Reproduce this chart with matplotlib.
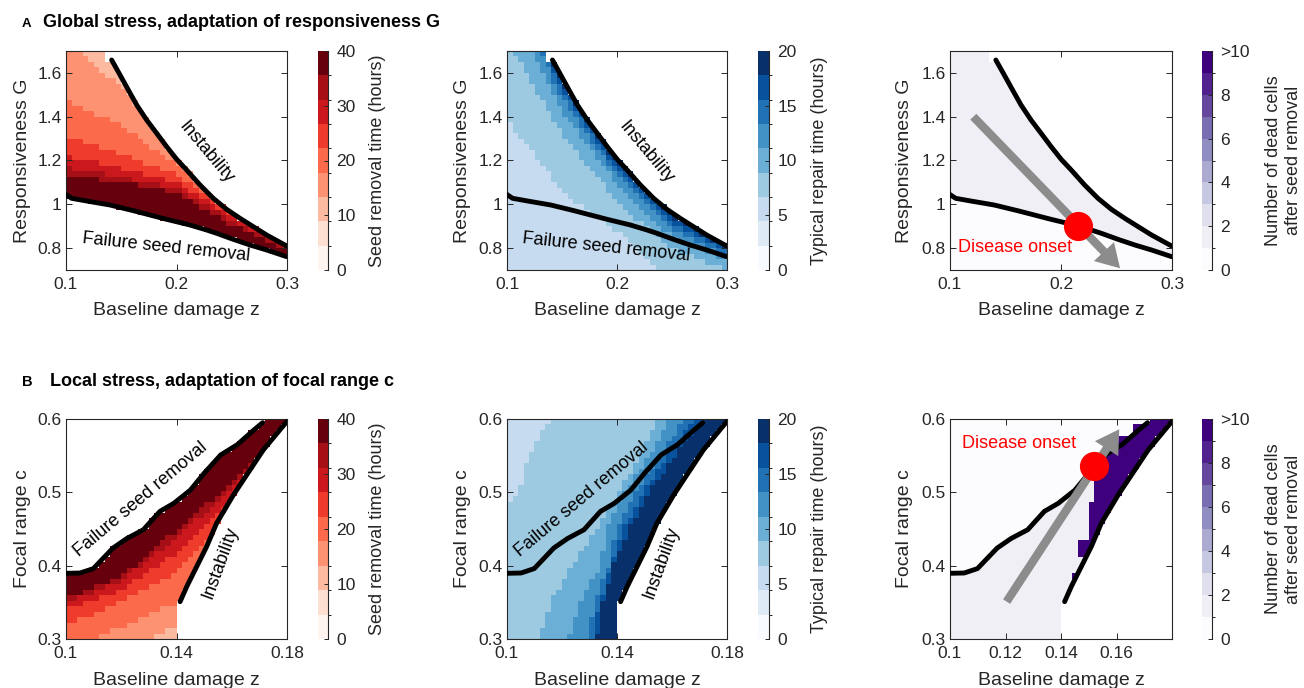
import numpy as np
import matplotlib
matplotlib.use('Agg')
import matplotlib.pyplot as plt
from matplotlib.colors import ListedColormap, BoundaryNorm
from matplotlib.cm import ScalarMappable
from matplotlib.patches import FancyArrow
from matplotlib.lines import Line2D

plt.rcParams['font.family'] = ['Liberation Sans', 'DejaVu Sans']

# ======================= data =======================
# ---- Row A: global stress (baseline damage z vs responsiveness G) ----
A_fail_z = [0.0997, 0.1051, 0.1187, 0.1398, 0.1609, 0.1760, 0.1911, 0.2122,
            0.2273, 0.2364, 0.2514, 0.2665, 0.2816, 0.2997]
A_fail_G = [1.0455, 1.0273, 1.0151, 0.9968, 0.9709, 0.9511, 0.9313, 0.9055,
            0.8826, 0.8674, 0.8400, 0.8142, 0.7913, 0.7609]
A_inst_z = [0.1413, 0.1489, 0.1564, 0.1640, 0.1730, 0.1821, 0.1911, 0.2002,
            0.2092, 0.2213, 0.2333, 0.2454, 0.2575, 0.2695, 0.2816, 0.2997]
A_inst_G = [1.6589, 1.5904, 1.5219, 1.4534, 1.3849, 1.3240, 1.2632, 1.2053,
            1.1566, 1.0881, 1.0273, 0.9770, 0.9359, 0.8979, 0.8598, 0.8096]
A_top_edge_z = 0.137          # data reach the top of the panel left of this z

A_band_z = [0.10, 0.15, 0.20, 0.25, 0.30]
# seed removal time: level boundaries (G) from light (upper) to dark (near failure)
A1_b43 = [1.750, 1.530, 1.250, 1.050, 0.900]
A1_b54 = [1.475, 1.360, 1.179, 1.000, 0.870]
A1_b65 = [1.315, 1.230, 1.134, 0.975, 0.850]
A1_b76 = [1.215, 1.165, 1.096, 0.951, 0.830]
A1_b87 = [1.165, 1.125, 1.073, 0.928, 0.810]
A1_b98 = [1.135, 1.100, 1.050, 0.905, 0.790]
# typical repair time: level boundaries (G), darker towards instability
A2_b34 = [1.385, 1.058, 0.875, 0.650, 0.600]
A2_b45 = [1.750, 1.316, 1.012, 0.799, 0.700]
A2_b56 = [1.950, 1.423, 1.088, 0.852, 0.738]
A2_b67 = [2.000, 1.484, 1.126, 0.890, 0.769]
A2_b78 = [2.050, 1.522, 1.157, 0.913, 0.784]
A2_b89 = [2.100, 1.552, 1.179, 0.936, 0.799]
# dead cells: value below failure curve and in the adaptive region
A3_below_value = 0.5
A3_region_value = 1.5
A3_onset = [0.2156, 0.902]
A3_arrow = [[0.121, 1.40], [0.2532, 0.708]]
A3_onset_text = [0.1586, 0.805]

# ---- Row B: local stress (baseline damage z vs focal range c) ----
B_fail_z = [0.100, 0.1051, 0.1099, 0.117, 0.122, 0.128, 0.134, 0.139, 0.145,
            0.150, 0.156, 0.162, 0.168, 0.1712]
B_fail_c = [0.3896, 0.390, 0.396, 0.424, 0.437, 0.449, 0.474, 0.485, 0.503,
            0.526, 0.551, 0.565, 0.585, 0.595]
B_inst_z = [0.1413, 0.1437, 0.1461, 0.1485, 0.1509, 0.1545, 0.1606, 0.1666,
            0.1714, 0.1799]
B_inst_c = [0.3509, 0.3714, 0.3896, 0.4077, 0.4259, 0.4577, 0.4964, 0.5305,
            0.5577, 0.5964]
B_low_edge_z = 0.14           # data stop at this z below the instability curve

B_band_z = [0.10, 0.12, 0.14, 0.16, 0.18]
B1_b34 = [0.250, 0.280, 0.320, 0.400, 0.500]
B1_b45 = [0.280, 0.317, 0.350, 0.440, 0.530]
B1_b56 = [0.317, 0.354, 0.390, 0.470, 0.550]
B1_b67 = [0.340, 0.367, 0.417, 0.490, 0.565]
B1_b78 = [0.351, 0.379, 0.438, 0.505, 0.575]
B1_b89 = [0.356, 0.385, 0.449, 0.513, 0.580]

B_band_c = [0.30, 0.35, 0.40, 0.45, 0.50, 0.55, 0.60]
B2_b34 = [0.090, 0.090, 0.090, 0.094, 0.104, 0.108, 0.1156]
B2_b45 = [0.112, 0.116, 0.1235, 0.1324, 0.1407, 0.1486, 0.1550]
B2_b56 = [0.1223, 0.1265, 0.1340, 0.1362, 0.1430, 0.1518, 0.1595]
B2_b67 = [0.1290, 0.1320, 0.1370, 0.1400, 0.1470, 0.1560, 0.1645]
B2_b78 = [0.1308, 0.1340, 0.1380, 0.1422, 0.1497, 0.1587, 0.1680]
B2_b89 = [0.1326, 0.1350, 0.1387, 0.1443, 0.1518, 0.1610, 0.1720]

B3_above_value = 0.5
B3_region_value = 1.5
B3_dark_value = 9.5
B3_dark_c_lo = [0.385, 0.4145, 0.4373, 0.4855, 0.5168, 0.555, 0.578, 0.5918]
B3_dark_c_hi = [0.392, 0.4373, 0.4855, 0.5168, 0.555, 0.578, 0.5918, 0.600]
B3_dark_z_left = [0.1432, 0.1468, 0.1492, 0.1510, 0.1530, 0.1580, 0.1660, 0.1710]
B3_onset = [0.1519, 0.536]
B3_arrow = [[0.1204, 0.351], [0.161, 0.586]]
B3_onset_text = [0.1249, 0.566]

# ticks / labels
A_xticks = [0.1, 0.2, 0.3]
A_yticks = [0.8, 1.0, 1.2, 1.4, 1.6]
A_yticklabels = ['0.8', '1', '1.2', '1.4', '1.6']
B_xticks = [0.1, 0.14, 0.18]
B3_xticks = [0.1, 0.12, 0.14, 0.16]
B_yticks = [0.3, 0.4, 0.5, 0.6]

reds9 = ['#fff5f0', '#fee0d2', '#fcbba1', '#fc9272', '#fb6a4a', '#ef3b2c',
         '#cb181d', '#a50f15', '#67000d']
blues9 = ['#f7fbff', '#deebf7', '#c6dbef', '#9ecae1', '#6baed6', '#4292c6',
          '#2171b5', '#08519c', '#08306b']
purples10 = plt.cm.Purples(np.linspace(0, 1, 10))

# ======================= figure layout (pixels) =======================
W, H = 1304, 688
fig = plt.figure(figsize=(W / 100, H / 100), dpi=100)
INK = '#262626'


def rect(l, r, t, b):
    return [l / W, 1 - b / H, (r - l) / W, (b - t) / H]


def style(ax, xlim, ylim, xt, xtl, yt, ytl, xlabel, ylabel, ylab_x):
    ax.set_xlim(xlim)
    ax.set_ylim(ylim)
    ax.set_xticks(xt)
    ax.set_xticklabels(xtl)
    ax.set_yticks(yt)
    ax.set_yticklabels(ytl)
    ax.tick_params(direction='in', top=True, right=True, length=4, width=0.7,
                   color=INK, labelcolor=INK, labelsize=12.5)
    ax.tick_params(axis='x', pad=5)
    ax.tick_params(axis='y', pad=3)
    for s in ax.spines.values():
        s.set_linewidth(0.8)
        s.set_color(INK)
    ax.set_xlabel(xlabel, fontsize=14, color=INK, va='center')
    ax.xaxis.set_label_coords(0.5, -0.187)
    ax.set_ylabel(ylabel, fontsize=14, color=INK, va='center')
    ax.yaxis.set_label_coords(ylab_x, 0.5)


def cbar(l, r, t, b, colors, vmax, ticks, ticklabels, label, label_x):
    cax = fig.add_axes(rect(l, r, t, b))
    cmap = ListedColormap(colors)
    norm = BoundaryNorm(np.linspace(0, vmax, len(colors) + 1), cmap.N)
    cb = fig.colorbar(ScalarMappable(norm=norm, cmap=cmap), cax=cax, ticks=ticks)
    cb.set_ticklabels(ticklabels)
    cb.outline.set_visible(False)
    cax.add_artist(Line2D([1, 1], [0, 1], transform=cax.transAxes, color=INK,
                          lw=0.8, clip_on=False))
    cax.tick_params(direction='in', length=3, width=0.7, color=INK,
                    labelcolor=INK, labelsize=12.5, pad=6)
    fig.text(label_x / W, 1 - (t + b) / 2 / H, label, rotation=90, ha='center',
             va='center', fontsize=13, color=INK, multialignment='center')
    return cmap, norm


def count_above(coord, pos, band_pos, bands):
    n = np.zeros(coord.shape)
    for bnd in bands:
        n += coord > np.interp(pos, band_pos, bnd)
    return n


def curve(ax, x, y):
    ax.plot(x, y, color='black', lw=3.5, solid_capstyle='round',
            solid_joinstyle='round', zorder=3)


def label(ax, x, y, s, rot):
    ax.text(x, y, s, rotation=rot, rotation_mode='anchor', ha='center',
            va='center', fontsize=13, color='black', zorder=4)


def onset(ax, dot, arrow, txt):
    p0 = ax.transLimits.transform(arrow[0])
    p1 = ax.transLimits.transform(arrow[1])
    ax.add_patch(FancyArrow(p0[0], p0[1], p1[0] - p0[0], p1[1] - p0[1],
                            width=0.038, head_width=0.125, head_length=0.105,
                            length_includes_head=True, transform=ax.transAxes,
                            color='#8c8c8c', lw=0, zorder=5, clip_on=False))
    ax.plot(dot[0], dot[1], 'o', ms=20, color='#ff0000', mec='#ff0000', zorder=6)
    ax.text(txt[0], txt[1], 'Disease onset', color='#ff0000', fontsize=13,
            ha='center', va='center', zorder=6)


# ---------------- grids ----------------
A_ze = np.linspace(0.1, 0.3, 41)
A_Ge = np.linspace(0.7, 1.7, 41)
AZ, AG = np.meshgrid((A_ze[:-1] + A_ze[1:]) / 2, (A_Ge[:-1] + A_Ge[1:]) / 2)
A_fail_at = np.interp(AZ, A_fail_z, A_fail_G)
A_top_at = np.where(AZ < A_top_edge_z, np.inf, np.interp(AZ, A_inst_z, A_inst_G))
A_stable = AG < A_top_at
A_adapt = A_stable & (AG > A_fail_at)

B_ze = np.linspace(0.1, 0.18, 41)
B_ce = np.linspace(0.3, 0.6, 41)
BZ, BC = np.meshgrid((B_ze[:-1] + B_ze[1:]) / 2, (B_ce[:-1] + B_ce[1:]) / 2)
B_fail_at = np.interp(BZ, B_fail_z, B_fail_c, right=1.0)
B_right_at = np.interp(BC, B_inst_c, B_inst_z, left=B_low_edge_z)
B_stable = BZ < B_right_at
B_adapt = B_stable & (BC < B_fail_at)

# ---------------- A1 ----------------
axA1 = fig.add_axes(rect(66, 287, 51, 270))
lev = 9 - count_above(AG, AZ, A_band_z, [A1_b43, A1_b54, A1_b65, A1_b76, A1_b87, A1_b98])
cm, nm = cbar(318, 328, 51, 270, reds9, 40, [0, 10, 20, 30, 40],
              ['0', '10', '20', '30', '40'], 'Seed removal time (hours)', 377)
vals = np.ma.masked_where(~A_adapt, (lev - 0.5) * 40 / 9)
axA1.pcolormesh(A_ze, A_Ge, vals, cmap=cm, norm=nm, shading='flat')
curve(axA1, A_fail_z, A_fail_G)
curve(axA1, A_inst_z, A_inst_G)
label(axA1, 0.2265, 1.2365, 'Instability', -50)
label(axA1, 0.1903, 0.803, 'Failure seed removal', -6)
style(axA1, (0.1, 0.3), (0.7, 1.7), A_xticks, ['0.1', '0.2', '0.3'], A_yticks,
      A_yticklabels, 'Baseline damage z', 'Responsiveness G', -0.199)

# ---------------- A2 ----------------
axA2 = fig.add_axes(rect(507, 727, 51, 270))
lev = 3 + count_above(AG, AZ, A_band_z, [A2_b34, A2_b45, A2_b56, A2_b67, A2_b78, A2_b89])
cm, nm = cbar(758, 769, 51, 270, blues9, 20, [0, 5, 10, 15, 20],
              ['0', '5', '10', '15', '20'], 'Typical repair time (hours)', 819)
vals = np.ma.masked_where(~A_stable, (lev - 0.5) * 20 / 9)
axA2.pcolormesh(A_ze, A_Ge, vals, cmap=cm, norm=nm, shading='flat')
curve(axA2, A_fail_z, A_fail_G)
curve(axA2, A_inst_z, A_inst_G)
label(axA2, 0.2265, 1.2365, 'Instability', -50)
label(axA2, 0.1903, 0.803, 'Failure seed removal', -6)
style(axA2, (0.1, 0.3), (0.7, 1.7), A_xticks, ['0.1', '0.2', '0.3'], A_yticks,
      A_yticklabels, 'Baseline damage z', 'Responsiveness G', -0.2)

# ---------------- A3 ----------------
axA3 = fig.add_axes(rect(950, 1172, 51, 270))
cm, nm = cbar(1202, 1212, 51, 270, purples10, 10, [0, 2, 4, 6, 8, 10],
              ['0', '2', '4', '6', '8', '>10'],
              'Number of dead cells\nafter seed removal', 1283.5)
vals = np.where(A_adapt, A3_region_value, A3_below_value)
vals = np.ma.masked_where(~A_stable, vals)
axA3.pcolormesh(A_ze, A_Ge, vals, cmap=cm, norm=nm, shading='flat')
curve(axA3, A_fail_z, A_fail_G)
curve(axA3, A_inst_z, A_inst_G)
style(axA3, (0.1, 0.3), (0.7, 1.7), A_xticks, ['0.1', '0.2', '0.3'], A_yticks,
      A_yticklabels, 'Baseline damage z', 'Responsiveness G', -0.203)
onset(axA3, A3_onset, A3_arrow, A3_onset_text)

# ---------------- B1 ----------------
axB1 = fig.add_axes(rect(66, 287, 419, 639))
lev = 3 + count_above(BC, BZ, B_band_z, [B1_b34, B1_b45, B1_b56, B1_b67, B1_b78, B1_b89])
cm, nm = cbar(318, 328, 419, 639, reds9, 40, [0, 10, 20, 30, 40],
              ['0', '10', '20', '30', '40'], 'Seed removal time (hours)', 377)
vals = np.ma.masked_where(~B_adapt, (lev - 0.5) * 40 / 9)
axB1.pcolormesh(B_ze, B_ce, vals, cmap=cm, norm=nm, shading='flat')
curve(axB1, B_fail_z, B_fail_c)
curve(axB1, B_inst_z, B_inst_c)
label(axB1, 0.1271, 0.491, 'Failure seed removal', 40)
label(axB1, 0.156, 0.4043, 'Instability', 70)
style(axB1, (0.1, 0.18), (0.3, 0.6), B_xticks, ['0.1', '0.14', '0.18'], B_yticks,
      ['0.3', '0.4', '0.5', '0.6'], 'Baseline damage z', 'Focal range c', -0.197)

# ---------------- B2 ----------------
axB2 = fig.add_axes(rect(507, 727, 419, 639))
lev = 3 + count_above(BZ, BC, B_band_c, [B2_b34, B2_b45, B2_b56, B2_b67, B2_b78, B2_b89])
cm, nm = cbar(758, 769, 419, 639, blues9, 20, [0, 5, 10, 15, 20],
              ['0', '5', '10', '15', '20'], 'Typical repair time (hours)', 819)
vals = np.ma.masked_where(~B_stable, (lev - 0.5) * 20 / 9)
axB2.pcolormesh(B_ze, B_ce, vals, cmap=cm, norm=nm, shading='flat')
curve(axB2, B_fail_z, B_fail_c)
curve(axB2, B_inst_z, B_inst_c)
label(axB2, 0.1271, 0.491, 'Failure seed removal', 40)
label(axB2, 0.156, 0.4043, 'Instability', 70)
style(axB2, (0.1, 0.18), (0.3, 0.6), B_xticks, ['0.1', '0.14', '0.18'], B_yticks,
      ['0.3', '0.4', '0.5', '0.6'], 'Baseline damage z', 'Focal range c', -0.2)

# ---------------- B3 ----------------
axB3 = fig.add_axes(rect(950, 1172, 419, 639))
cm, nm = cbar(1202, 1212, 419, 639, purples10, 10, [0, 2, 4, 6, 8, 10],
              ['0', '2', '4', '6', '8', '>10'],
              'Number of dead cells\nafter seed removal', 1283.5)
vals = np.where(B_adapt, B3_region_value, B3_above_value)
for lo, hi, zl in zip(B3_dark_c_lo, B3_dark_c_hi, B3_dark_z_left):
    vals = np.where((BC > lo) & (BC < hi) & (BZ > zl), B3_dark_value, vals)
vals = np.ma.masked_where(~B_stable, vals)
axB3.pcolormesh(B_ze, B_ce, vals, cmap=cm, norm=nm, shading='flat')
curve(axB3, B_fail_z, B_fail_c)
curve(axB3, B_inst_z, B_inst_c)
style(axB3, (0.1, 0.18), (0.3, 0.6), B3_xticks, ['0.1', '0.12', '0.14', '0.16'],
      B_yticks, ['0.3', '0.4', '0.5', '0.6'], 'Baseline damage z', 'Focal range c',
      -0.203)
onset(axB3, B3_onset, B3_arrow, B3_onset_text)

# ---------------- panel titles ----------------
fig.text(21.7 / W, 1 - 26.7 / H, 'A', fontsize=9.5, fontweight='bold', va='baseline')
fig.text(43 / W, 1 - 26.7 / H, 'Global stress, adaptation of responsiveness G',
         fontsize=13, fontweight='bold', va='baseline')
fig.text(21.7 / W, 1 - 386 / H, 'B', fontsize=10.5, fontweight='bold', va='baseline')
fig.text(50 / W, 1 - 386 / H, 'Local stress, adaptation of focal range c',
         fontsize=13, fontweight='bold', va='baseline')

fig.savefig('out.png', dpi=100)
